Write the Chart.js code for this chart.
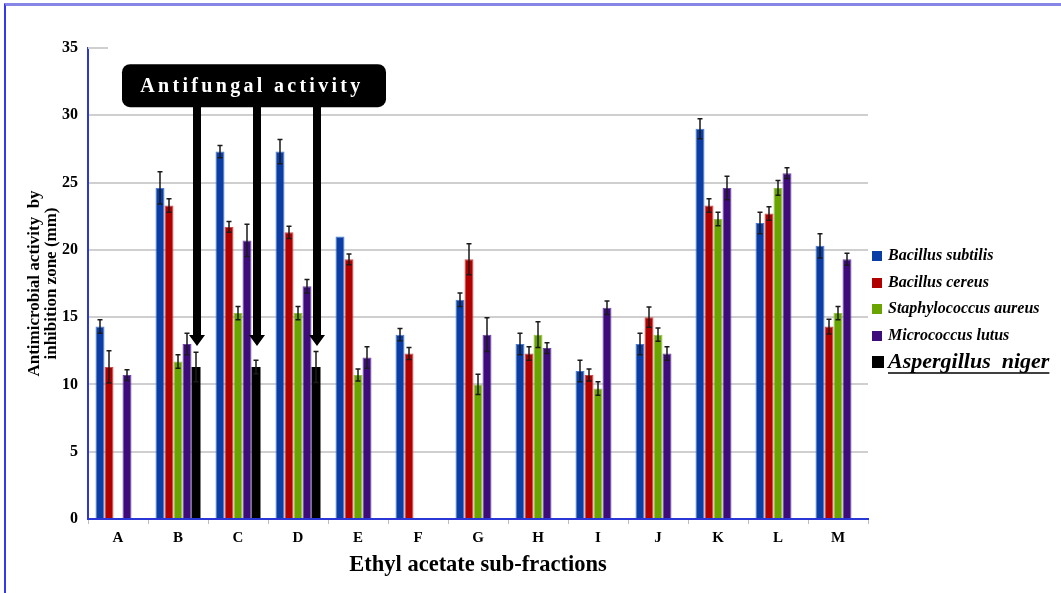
<!DOCTYPE html>
<html>
<head>
<meta charset="utf-8">
<script src="https://cdn.jsdelivr.net/npm/chart.js@4.4.0/dist/chart.umd.min.js"></script>
<style>
  html, body { margin: 0; padding: 0; background: #ffffff; }
  #wrap { position: relative; width: 1061px; height: 593px; overflow: hidden; }
  #frame { position: absolute; left: 4px; top: 3px; right: 0; bottom: 0;
           border-top: 3px solid #8686e6; border-left: 2px solid #3636ee; pointer-events: none; }
  canvas { display: block; }
</style>
</head>
<body>
<div id="wrap">
  <canvas id="chart" width="1061" height="593"></canvas>
  <div id="frame"></div>
</div>
<script>
// Ethyl acetate sub-fractions
const categories = ['A', 'B', 'C', 'D', 'E', 'F', 'G', 'H', 'I', 'J', 'K', 'L', 'M'];

// Inhibition zone (mm) per organism, with standard errors
const bacillusSubtilis    = [14.3, 24.6, 27.3, 27.3, 21.0, 13.7, 16.3, 13.0, 11.0, 13.0, 29.0, 22.0, 20.3];
const bacillusSubtilisErr = [0.5, 1.2, 0.45, 0.9, 0, 0.45, 0.5, 0.8, 0.8, 0.8, 0.75, 0.8, 0.9];

const bacillusCereus      = [11.3, 23.3, 21.7, 21.3, 19.3, 12.3, 19.3, 12.3, 10.7, 15.0, 23.3, 22.7, 14.3];
const bacillusCereusErr   = [1.2, 0.5, 0.4, 0.45, 0.4, 0.45, 1.15, 0.5, 0.45, 0.75, 0.5, 0.5, 0.55];

const staphAureus         = [null, 11.7, 15.3, 15.3, 10.7, null, 10.0, 13.7, 9.7, 13.7, 22.3, 24.6, 15.3];
const staphAureusErr      = [null, 0.5, 0.5, 0.5, 0.45, null, 0.75, 0.95, 0.5, 0.5, 0.5, 0.55, 0.5];

const micrococcusLutus    = [10.7, 13.0, 20.7, 17.3, 12.0, null, 13.7, 12.7, 15.7, 12.3, 24.6, 25.7, 19.3];
const micrococcusLutusErr = [0.4, 0.8, 1.2, 0.5, 0.8, null, 1.25, 0.4, 0.5, 0.5, 0.87, 0.4, 0.45];

const aspergillusNiger    = [null, 11.3, 11.3, 11.3, null, null, null, null, null, null, null, null, null];
const aspergillusNigerErr = [null, 1.1, 0.5, 1.15, null, null, null, null, null, null, null, null, null];

const yTicks = [0, 5, 10, 15, 20, 25, 30, 35];

const SERIF = "'Liberation Serif', 'Times New Roman', serif";

// Vertical error bars centred on each bar top
const errorBars = {
  id: 'errorBars',
  afterDatasetsDraw(chart) {
    const ctx = chart.ctx;
    const y = chart.scales.y;
    chart.data.datasets.forEach((ds, i) => {
      const meta = chart.getDatasetMeta(i);
      meta.data.forEach((bar, j) => {
        const v = ds.data[j];
        const e = ds.errors ? ds.errors[j] : null;
        if (v == null || !e) return;
        const x = bar.x;
        const top = y.getPixelForValue(v + e);
        const bot = y.getPixelForValue(v - e);
        ctx.save();
        ctx.strokeStyle = '#1a1a1a';
        ctx.lineWidth = 1.5;
        ctx.beginPath();
        ctx.moveTo(x, top); ctx.lineTo(x, bot);
        ctx.moveTo(x - 2.5, top); ctx.lineTo(x + 2.5, top);
        ctx.moveTo(x - 2.5, bot); ctx.lineTo(x + 2.5, bot);
        ctx.stroke();
        ctx.restore();
      });
    });
  }
};

// Short stub at the top of the value axis
const topStub = {
  id: 'topStub',
  beforeDatasetsDraw(chart) {
    const { ctx, chartArea, scales: { y } } = chart;
    const yy = y.getPixelForValue(35);
    ctx.save();
    ctx.strokeStyle = '#cfcfcf';
    ctx.lineWidth = 2;
    ctx.beginPath();
    ctx.moveTo(chartArea.left, yy);
    ctx.lineTo(chartArea.left + 20, yy);
    ctx.stroke();
    ctx.restore();
  }
};

// "Antifungal activity" callout with arrows pointing at the A. niger bars
const antifungalCallout = {
  id: 'antifungalCallout',
  afterDatasetsDraw(chart) {
    const { ctx, scales: { x, y } } = chart;
    const catW = x.width / categories.length;
    const left = x.getPixelForValue(0) + 4;
    const right = x.getPixelForValue(5) - catW / 2 - 2;
    const top = y.getPixelForValue(33.8);
    const bottom = y.getPixelForValue(30.6);

    const idx = chart.data.datasets.findIndex(d => d.label === 'Aspergillus niger');
    const ds = chart.data.datasets[idx];
    const meta = chart.getDatasetMeta(idx);

    ctx.save();
    ctx.fillStyle = '#000000';
    meta.data.forEach((bar, j) => {
      const v = ds.data[j];
      if (v == null) return;
      const bx = bar.x + 1;
      const tip = y.getPixelForValue(v + 1.55);
      const headH = 11, headW = 8, shaftW = 4;
      ctx.beginPath();
      ctx.moveTo(bx - shaftW, bottom - 2);
      ctx.lineTo(bx + shaftW, bottom - 2);
      ctx.lineTo(bx + shaftW, tip - headH);
      ctx.lineTo(bx + headW, tip - headH);
      ctx.lineTo(bx, tip);
      ctx.lineTo(bx - headW, tip - headH);
      ctx.lineTo(bx - shaftW, tip - headH);
      ctx.closePath();
      ctx.fill();
    });

    ctx.beginPath();
    ctx.roundRect(left, top, right - left, bottom - top, 8);
    ctx.fill();

    ctx.fillStyle = '#ffffff';
    ctx.font = `bold 20px ${SERIF}`;
    ctx.letterSpacing = '3.3px';
    ctx.textAlign = 'center';
    ctx.textBaseline = 'middle';
    ctx.fillText('Antifungal activity', (left + right) / 2 - 2, (top + bottom) / 2 + 1);
    ctx.restore();
  }
};

// Legend on the right; the fungus entry is emphasised
const sideLegend = {
  id: 'sideLegend',
  afterDraw(chart) {
    const { ctx, chartArea } = chart;
    const x0 = chartArea.right + 4;
    const rows = [256, 283, 309, 336, 362];
    ctx.save();
    chart.data.datasets.forEach((ds, i) => {
      const cy = rows[i];
      const big = i === chart.data.datasets.length - 1;
      const sz = big ? 12 : 10;
      ctx.fillStyle = ds.backgroundColor;
      ctx.fillRect(x0, cy - sz / 2, sz, sz);
      ctx.fillStyle = '#000000';
      ctx.font = big ? `italic bold 22px ${SERIF}` : `italic bold 16px ${SERIF}`;
      ctx.textAlign = 'left';
      ctx.textBaseline = 'middle';
      const tx = x0 + 16;
      const text = big ? ds.label.replace(' ', '  ') : ds.label;
      ctx.fillText(text, tx, cy);
      if (big) {
        const w = ctx.measureText(text).width;
        ctx.strokeStyle = '#000000';
        ctx.lineWidth = 1.6;
        ctx.beginPath();
        ctx.moveTo(tx, cy + 11);
        ctx.lineTo(tx + w, cy + 11);
        ctx.stroke();
      }
    });
    ctx.restore();
  }
};

const AXIS_BLUE = '#2a36d6';

new Chart(document.getElementById('chart'), {
  type: 'bar',
  data: {
    labels: categories,
    datasets: [
      { label: 'Bacillus subtilis', data: bacillusSubtilis, errors: bacillusSubtilisErr,
        backgroundColor: '#0a3ea4', borderColor: '#4a7fd6', borderWidth: 1 },
      { label: 'Bacillus cereus', data: bacillusCereus, errors: bacillusCereusErr,
        backgroundColor: '#b00000', borderColor: '#d84848', borderWidth: 1 },
      { label: 'Staphylococcus aureus', data: staphAureus, errors: staphAureusErr,
        backgroundColor: '#6aa400', borderColor: '#94c244', borderWidth: 1 },
      { label: 'Micrococcus lutus', data: micrococcusLutus, errors: micrococcusLutusErr,
        backgroundColor: '#3d0c7a', borderColor: '#7048a8', borderWidth: 1 },
      { label: 'Aspergillus niger', data: aspergillusNiger, errors: aspergillusNigerErr,
        backgroundColor: '#000000', borderColor: '#000000', borderWidth: 0 }
    ]
  },
  options: {
    responsive: false,
    animation: false,
    devicePixelRatio: 1,
    categoryPercentage: 0.75,
    barPercentage: 1.0,
    layout: { padding: { left: 8, right: 193, top: 48, bottom: 0 } },
    plugins: {
      legend: { display: false },
      tooltip: { enabled: false },
      title: { display: false }
    },
    scales: {
      x: {
        grid: { drawOnChartArea: false, drawTicks: true, tickLength: 5, color: '#bdbdbd', offset: true },
        border: { display: true, color: AXIS_BLUE, width: 2 },
        ticks: { color: '#000000', font: { family: SERIF, weight: 'bold', size: 15 }, padding: 5 },
        title: {
          display: true, text: 'Ethyl acetate sub-fractions', color: '#000000',
          font: { family: SERIF, weight: 'bold', size: 22.5 }, padding: { top: 0, bottom: 14 }
        },
        afterFit(scale) { scale.height = 74; }
      },
      y: {
        min: 0, max: 35,
        afterBuildTicks(scale) { scale.ticks = yTicks.map(v => ({ value: v })); },
        grid: {
          drawTicks: false,
          lineWidth: 2,
          color: ctx => (ctx.tick && ctx.tick.value === 35) ? 'rgba(0,0,0,0)' : '#cfcfcf'
        },
        border: { display: true, color: AXIS_BLUE, width: 2 },
        ticks: { color: '#000000', font: { family: SERIF, weight: 'bold', size: 16 }, padding: 10 },
        title: {
          display: true,
          text: ['Antimicrobial activity  by', 'inhibition zone (mm)'],
          color: '#000000',
          font: { family: SERIF, weight: 'bold', size: 17, lineHeight: 1.0 },
          padding: { top: 18, bottom: 0 }
        },
        afterFit(scale) { scale.width = 80; }
      }
    }
  },
  plugins: [topStub, errorBars, antifungalCallout, sideLegend]
});
</script>
</body>
</html>
